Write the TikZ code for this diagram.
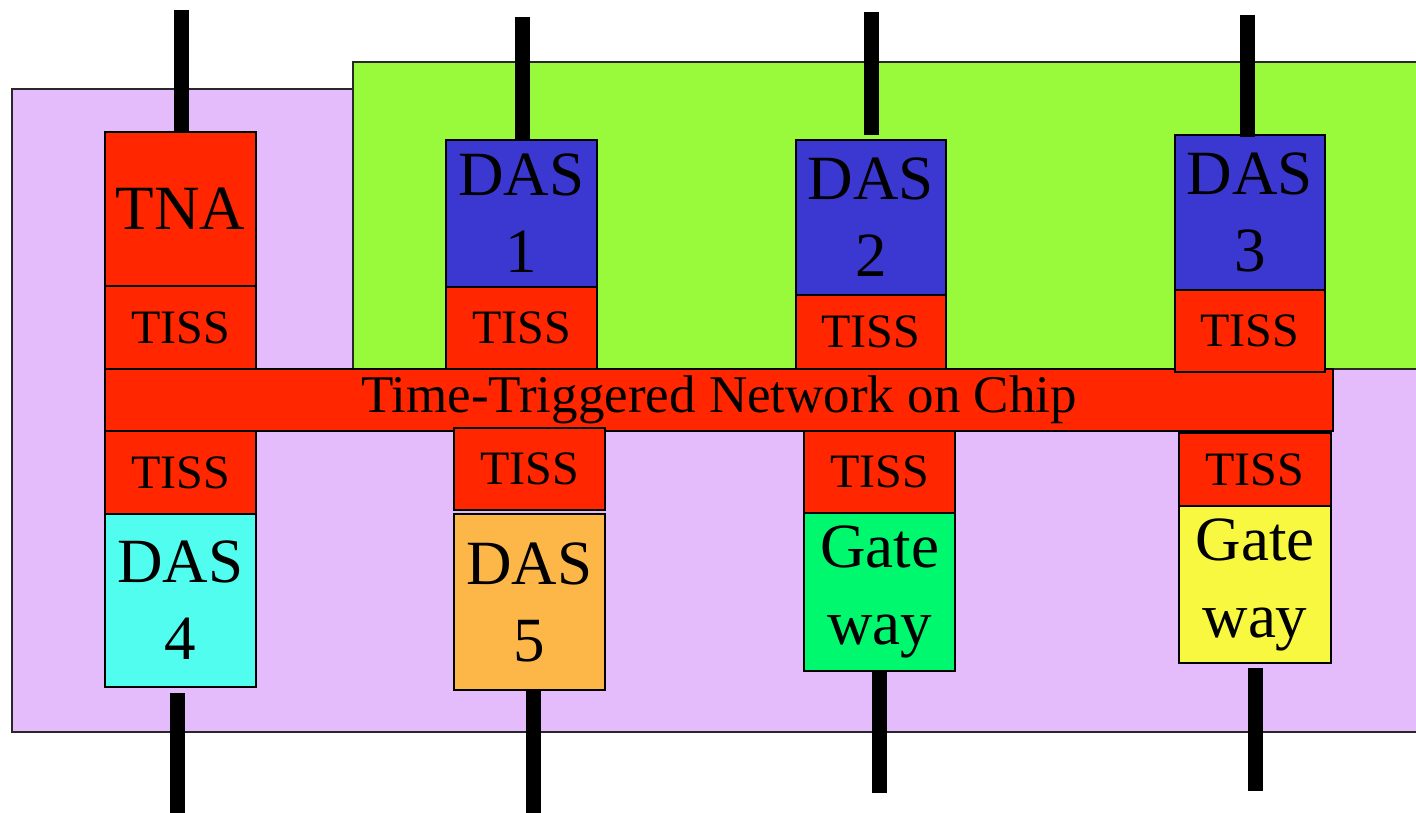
\documentclass[tikz,border=0pt]{standalone}
\usepackage{fontspec}
\setmainfont{Liberation Serif}
\definecolor{chipbg}{RGB}{228,188,252}
\definecolor{clusterbg}{RGB}{153,250,60}
\definecolor{netred}{RGB}{255,38,0}
\definecolor{dasblue}{RGB}{58,56,208}
\definecolor{dascyan}{RGB}{80,253,238}
\definecolor{dasorange}{RGB}{253,183,72}
\definecolor{gwgreen}{RGB}{0,248,110}
\definecolor{gwyellow}{RGB}{249,248,64}
\definecolor{rim}{RGB}{40,40,40}
\tikzset{
  unitbox/.style={draw=black, line width=2pt, inner sep=0pt, outer sep=0pt,
    align=center, anchor=north west},
  bigtext/.style={font={\fontsize{63pt}{77pt}\selectfont}},
  tisstext/.style={font={\fontsize{48pt}{56pt}\selectfont}},
  nettext/.style={font={\fontsize{53pt}{60pt}\selectfont}},
  tiss/.style={unitbox, tisstext, fill=netred},
  link/.style={line width=15pt, black},
  area/.style={draw=rim, line width=2pt}
}
\begin{document}
\begin{tikzpicture}[x=1pt, y=-1pt]
\useasboundingbox (0,0) rectangle (1416,812);
\clip (0,0) rectangle (1416,812);
\fill[white] (0,0) rectangle (1416,812);

% chip area and the cluster behind the upper row
\draw[area, fill=chipbg] (12,89) rectangle (1440,732);
\draw[area, fill=clusterbg] (353,62) rectangle (1440,369);

% the network on chip
\node[unitbox, nettext, fill=netred, minimum width=1228pt, minimum height=62pt]
  (noc) at (105,369) {Time-Triggered Network on Chip};

% upper row
\node[unitbox, bigtext, fill=netred, minimum width=151pt, minimum height=154pt] (tna) at (105,132) {TNA};
\node[tiss, minimum width=151pt, minimum height=83pt] (tissA) at (105,286) {TISS};

\node[unitbox, bigtext, fill=dasblue, minimum width=151pt, minimum height=147pt] (das1) at (446,140) {DAS\\1};
\node[tiss, minimum width=151pt, minimum height=82pt] (tiss1) at (446,287) {TISS};

\node[unitbox, bigtext, fill=dasblue, minimum width=150pt, minimum height=155pt] (das2) at (796,140) {DAS\\2};
\node[tiss, minimum width=150pt, minimum height=74pt] (tiss2) at (796,295) {TISS};

\node[unitbox, bigtext, fill=dasblue, minimum width=150pt, minimum height=155pt] (das3) at (1175,135) {DAS\\3};
\node[tiss, minimum width=150pt, minimum height=82pt] (tiss3) at (1175,290) {TISS};

% lower row
\node[tiss, minimum width=151pt, minimum height=83pt] (tiss4) at (105,431) {TISS};
\node[unitbox, bigtext, fill=dascyan, minimum width=151pt, minimum height=173pt] (das4) at (105,514) {DAS\\4};

\node[tiss, minimum width=151pt, minimum height=82pt] (tiss5) at (454,428) {TISS};
\node[unitbox, bigtext, fill=dasorange, minimum width=151pt, minimum height=176pt] (das5) at (454,514) {DAS\\5};

\node[tiss, minimum width=151pt, minimum height=82pt] (tiss6) at (804,431) {TISS};
\node[unitbox, bigtext, fill=gwgreen, minimum width=151pt, minimum height=158pt] (gw1) at (804,513) {Gate\\way};

\node[tiss, minimum width=152pt, minimum height=73pt] (tiss7) at (1179,433) {TISS};
\node[unitbox, bigtext, fill=gwyellow, minimum width=152pt, minimum height=157pt] (gw2) at (1179,506) {Gate\\way};

% external links
\coordinate (tnaOut) at (181,10);
\coordinate (das1Out) at (522,17);
\coordinate (das2Out) at (871,12);
\coordinate (das3Out) at (1247,15);
\coordinate (das4Out) at (177,830);
\coordinate (das5Out) at (533,830);
\coordinate (gw1Out) at (879,793);
\coordinate (gw2Out) at (1255,791);

\draw[link] (tnaOut) -- (tnaOut |- tna.north);
\draw[link] (das1Out) -- (das1Out |- das1.north);
\draw[link] (das2Out) -- ([yshift=5pt]das2Out |- das2.north);
\draw[link] (das3Out) -- ([yshift=-2pt]das3Out |- das3.north);
\draw[link] ([yshift=-6pt]das4Out |- das4.south) -- (das4Out);
\draw[link] (das5Out |- das5.south) -- (das5Out);
\draw[link] (gw1Out |- gw1.south) -- (gw1Out);
\draw[link] ([yshift=-5pt]gw2Out |- gw2.south) -- (gw2Out);
\end{tikzpicture}
\end{document}
